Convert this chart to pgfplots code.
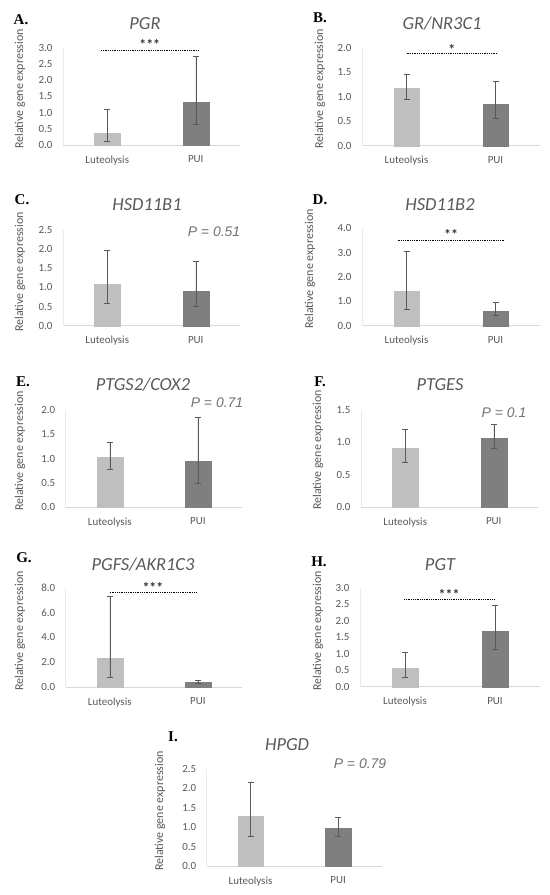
\documentclass[border=0pt]{standalone}
\usepackage{fontspec}
\setmainfont{Carlito}
\newfontfamily\pfont{Liberation Sans}
\newfontfamily\lfont{Liberation Serif}
\usepackage{pgfplots}
\pgfplotsset{compat=1.18}

\definecolor{txt}{HTML}{595959}
\definecolor{lut}{HTML}{BFBFBF}
\definecolor{pui}{HTML}{7F7F7F}
\definecolor{base}{HTML}{D9D9D9}
\definecolor{ebar}{HTML}{595959}

\pgfplotsset{
  panel/.style={
    scale only axis, anchor=south west,
    xmin=0.5, xmax=2.5, ymin=0,
    xtick={1,2}, xticklabels={Luteolysis,PUI},
    axis x line*=bottom, axis y line*=left,
    x axis line style={draw=base, line width=0.8pt},
    y axis line style={draw=base!50, line width=0.6pt},
    major tick length=0,
    ticklabel style={font=\fontsize{11}{13}\selectfont, text=txt},
    xticklabel style={yshift=-7bp},
    yticklabel style={xshift=-7bp},
    /pgf/number format/assume math mode=true,
    /pgf/number format/fixed,
    /pgf/number format/fixed zerofill,
    /pgf/number format/precision=1,
    ybar, bar width=0.29, bar shift=0pt,
    clip=false,
  },
  errs/.style={
    error bars/.cd, y dir=both, y explicit,
    error mark=-,
    error bar style={color=ebar, line width=0.5pt, solid},
    error mark options={color=ebar, line width=0.5pt, mark size=3bp, solid, rotate=90}},
  lutbar/.style={fill=lut, draw=lut, line width=0.1pt, errs},
  puibar/.style={fill=pui, draw=pui, line width=0.1pt, errs},
}
\tikzset{
  sig/.style={draw=black, densely dotted, line width=0.8pt},
  stars/.style={font=\fontsize{14}{14}\selectfont\bfseries, text=black!80},
  gene/.style={font=\fontsize{18.5}{20}\selectfont\itshape, text=txt},
  pval/.style={font=\pfont\fontsize{14}{16}\selectfont\itshape, text=txt!85},
  letter/.style={font=\lfont\fontsize{15}{17}\selectfont\bfseries},
  ylab/.style={font=\fontsize{12}{14}\selectfont, text=txt, rotate=90},
}

\begin{document}
\begin{tikzpicture}
\path[use as bounding box] (0,0) rectangle (550bp,-895bp);

% A. PGR
\begin{axis}[panel, at={(63bp,-145bp)}, width=177bp, height=97bp,
  ymax=3, ytick={0,0.5,1,1.5,2,2.5,3}]
  \addplot[lutbar] coordinates {(1,0.38) += (0,0.73) -= (0,0.25)};
  \addplot[puibar] coordinates {(2,1.32) += (0,1.43) -= (0,0.68)};
  \draw[sig] (axis cs:0.93,2.92) -- (axis cs:2.03,2.92);
  \node[stars] at (axis cs:1.48,3.12) {***};
\end{axis}

% B. GR/NR3C1
\begin{axis}[panel, at={(362bp,-145.7bp)}, width=178bp, height=98bp,
  ymax=2, ytick={0,0.5,1,1.5,2}]
  \addplot[lutbar] coordinates {(1,1.17) += (0,0.28) -= (0,0.22)};
  \addplot[puibar] coordinates {(2,0.85) += (0,0.46) -= (0,0.29)};
  \draw[sig] (axis cs:1.0,1.88) -- (axis cs:2.02,1.88);
  \node[stars] at (axis cs:1.51,1.96) {*};
\end{axis}

% C. HSD11B1
\begin{axis}[panel, at={(63bp,-325.7bp)}, width=177bp, height=95.7bp,
  ymax=2.5, ytick={0,0.5,1,1.5,2,2.5}]
  \addplot[lutbar] coordinates {(1,1.08) += (0,0.90) -= (0,0.50)};
  \addplot[puibar] coordinates {(2,0.91) += (0,0.78) -= (0,0.41)};
\end{axis}

% D. HSD11B2
\begin{axis}[panel, at={(362bp,-325.7bp)}, width=178bp, height=97.4bp,
  ymax=4, ytick={0,1,2,3,4}]
  \addplot[lutbar] coordinates {(1,1.44) += (0,1.60) -= (0,0.76)};
  \addplot[puibar] coordinates {(2,0.62) += (0,0.33) -= (0,0.18)};
  \draw[sig] (axis cs:0.90,3.51) -- (axis cs:2.10,3.51);
  \node[stars] at (axis cs:1.50,3.74) {**};
\end{axis}

% E. PTGS2/COX2
\begin{axis}[panel, at={(65.7bp,-507.3bp)}, width=176.3bp, height=97.3bp,
  ymax=2, ytick={0,0.5,1,1.5,2}]
  \addplot[lutbar] coordinates {(1,1.03) += (0,0.31) -= (0,0.24)};
  \addplot[puibar] coordinates {(2,0.95) += (0,0.90) -= (0,0.46)};
\end{axis}

% F. PTGES
\begin{axis}[panel, at={(361bp,-507.3bp)}, width=177bp, height=97.3bp,
  ymax=1.5, ytick={0,0.5,1,1.5}]
  \addplot[lutbar] coordinates {(1,0.91) += (0,0.30) -= (0,0.21)};
  \addplot[puibar] coordinates {(2,1.07) += (0,0.21) -= (0,0.16)};
\end{axis}

% G. PGFS/AKR1C3
\begin{axis}[panel, at={(65.7bp,-687bp)}, width=176.3bp, height=99.3bp,
  ymax=8, ytick={0,2,4,6,8}]
  \addplot[lutbar] coordinates {(1,2.36) += (0,4.92) -= (0,1.61)};
  \addplot[puibar] coordinates {(2,0.43) += (0,0.11) -= (0,0.11)};
  \draw[sig] (axis cs:1.0,7.62) -- (axis cs:1.99,7.62);
  \node[stars] at (axis cs:1.49,8.0) {***};
\end{axis}

% H. PGT
\begin{axis}[panel, at={(360bp,-686.7bp)}, width=180bp, height=99bp,
  ymax=3, ytick={0,0.5,1,1.5,2,2.5,3}]
  \addplot[lutbar] coordinates {(1,0.56) += (0,0.49) -= (0,0.26)};
  \addplot[puibar] coordinates {(2,1.69) += (0,0.79) -= (0,0.54)};
  \draw[sig] (axis cs:0.99,2.66) -- (axis cs:1.99,2.66);
  \node[stars] at (axis cs:1.49,2.80) {***};
\end{axis}

% I. HPGD
\begin{axis}[panel, at={(206.7bp,-866.3bp)}, width=175.3bp, height=97.3bp,
  ymax=2.5, ytick={0,0.5,1,1.5,2,2.5}]
  \addplot[lutbar] coordinates {(1,1.30) += (0,0.87) -= (0,0.52)};
  \addplot[puibar] coordinates {(2,0.98) += (0,0.27) -= (0,0.22)};
\end{axis}

% panel letters
\node[letter] at (21bp,-20bp) {A.};
\node[letter] at (320bp,-18bp) {B.};
\node[letter] at (22bp,-200bp) {C.};
\node[letter] at (320bp,-200bp) {D.};
\node[letter] at (23bp,-382bp) {E.};
\node[letter] at (320bp,-382bp) {F.};
\node[letter] at (24bp,-558bp) {G.};
\node[letter] at (319bp,-562bp) {H.};
\node[letter] at (173bp,-737bp) {I.};

% gene titles
\node[gene] at (145bp,-24bp) {PGR};
\node[gene] at (442bp,-24bp) {GR/NR3C1};
\node[gene] at (147bp,-205bp) {HSD11B1};
\node[gene] at (440bp,-205bp) {HSD11B2};
\node[gene] at (143bp,-385bp) {PTGS2/COX2};
\node[gene] at (440bp,-385bp) {PTGES};
\node[gene] at (143bp,-565bp) {PGFS/AKR1C3};
\node[gene] at (440bp,-565bp) {PGT};
\node[gene] at (287bp,-745bp) {HPGD};

% P values
\node[pval] at (214bp,-232bp) {P = 0.51};
\node[pval] at (217bp,-403bp) {P = 0.71};
\node[pval] at (504bp,-413bp) {P = 0.1};
\node[pval] at (360bp,-764bp) {P = 0.79};

% y labels
\node[ylab] at (20bp,-89bp) {Relative gene expression};
\node[ylab] at (320bp,-89bp) {Relative gene expression};
\node[ylab] at (20bp,-272bp) {Relative gene expression};
\node[ylab] at (310bp,-269bp) {Relative gene expression};
\node[ylab] at (20bp,-451bp) {Relative gene expression};
\node[ylab] at (318bp,-450bp) {Relative gene expression};
\node[ylab] at (20bp,-631bp) {Relative gene expression};
\node[ylab] at (318bp,-631bp) {Relative gene expression};
\node[ylab] at (160bp,-811bp) {Relative gene expression};
\end{tikzpicture}
\end{document}
